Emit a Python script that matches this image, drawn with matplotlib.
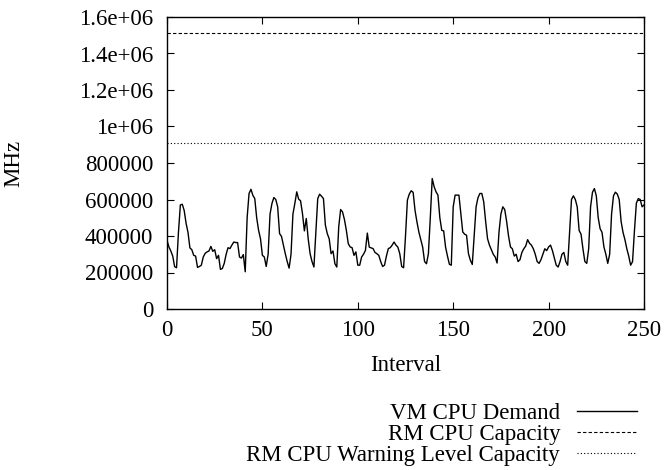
import matplotlib
matplotlib.use("Agg")
import matplotlib.pyplot as plt
import numpy as np

# ---- data (values in kMHz, one per interval) ----
demand_k = [
    376, 340, 318, 290, 232, 226, 420, 570, 574, 540,
    470, 420, 335, 325, 294, 290, 228, 233, 240, 285,
    305, 313, 318, 343, 316, 325, 276, 294, 217, 222,
    250, 300, 336, 331, 350, 367, 364, 364, 285, 279,
    298, 204, 500, 633, 656, 623, 605, 500, 431, 385,
    294, 285, 233, 300, 520, 578, 611, 600, 560, 413,
    398, 350, 303, 260, 224, 300, 520, 578, 642, 602,
    593, 523, 428, 496, 385, 303, 260, 230, 420, 605,
    629, 618, 605, 460, 413, 385, 303, 318, 248, 230,
    450, 545, 532, 490, 431, 358, 340, 336, 294, 313,
    240, 240, 285, 300, 321, 416, 339, 335, 331, 310,
    303, 294, 260, 233, 240, 290, 331, 336, 350, 367,
    350, 339, 303, 233, 226, 400, 597, 630, 648, 639,
    540, 477, 422, 380, 339, 260, 248, 303, 500, 715,
    670, 642, 624, 500, 431, 428, 339, 290, 245, 240,
    560, 624, 624, 624, 520, 422, 410, 404, 303, 267,
    244, 400, 560, 610, 633, 633, 587, 480, 385, 350,
    325, 300, 285, 252, 422, 520, 560, 545, 480, 400,
    340, 330, 290, 300, 260, 270, 310, 330, 345, 380,
    360, 350, 330, 300, 260, 250, 270, 300, 330, 320,
    340, 350, 320, 280, 240, 230, 260, 300, 310, 260,
    240, 420, 600, 620, 600, 560, 430, 410, 330, 260,
    250, 330, 560, 640, 660, 620, 500, 440, 420, 340,
    300, 250, 300, 520, 620, 640, 630, 600, 480, 420,
    380, 330, 290, 240, 260, 430, 580, 605, 600, 560,
    570,
]
capacity = 1515000
warning_capacity = 909000

x_ticks = [0, 50, 100, 150, 200, 250]
y_ticks = [0, 200000, 400000, 600000, 800000, 1000000, 1200000, 1400000, 1600000]
y_ticklabels = ["0", "200000", "400000", "600000", "800000", "1e+06",
                "1.2e+06", "1.4e+06", "1.6e+06"]

labels = ["VM CPU Demand", "RM CPU Capacity", "RM CPU Warning Level Capacity"]

# ---- plot ----
FS = 16.5
plt.rcParams["font.family"] = ["Liberation Serif", "DejaVu Serif"]
plt.rcParams["font.size"] = FS

fig = plt.figure(figsize=(6.64, 4.70), dpi=100)
ax = fig.add_axes([167 / 664, 1 - 309 / 470, (644 - 167) / 664, (309 - 17) / 470])

xs = np.arange(len(demand_k))
demand = np.array(demand_k) * 1000.0
l1, = ax.plot(xs, demand, color="black", lw=1.0, label=labels[0])
l2 = ax.axhline(capacity, color="black", lw=0.8, dashes=(3, 2), label=labels[1])
l3 = ax.axhline(warning_capacity, color="black", lw=0.8, dashes=(1, 2), label=labels[2])

ax.set_xlim(0, 250)
ax.set_ylim(0, 1600000)
ax.set_xticks(x_ticks)
ax.set_yticks(y_ticks)
ax.set_yticklabels(y_ticklabels)
ax.tick_params(axis="both", direction="in", top=True, right=True, length=5, width=0.8,
               labelsize=FS)
ax.tick_params(axis="y", pad=10)
ax.tick_params(axis="x", pad=8)
for s in ax.spines.values():
    s.set_linewidth(1.0)

ax.set_xlabel("Interval", fontsize=FS, labelpad=10)
fig.text(14 / 664, 1 - 163 / 470, "MHz", rotation=90, ha="center", va="center", fontsize=FS)

fig.legend(handles=[l1, l2, l3], labels=labels, loc="lower right",
           bbox_to_anchor=(637 / 664, 1 - 466 / 470), frameon=False,
           markerfirst=False, handlelength=2.6, handletextpad=0.75,
           labelspacing=0.0, fontsize=FS, borderaxespad=0, borderpad=0)

fig.savefig("out.png", dpi=100)
